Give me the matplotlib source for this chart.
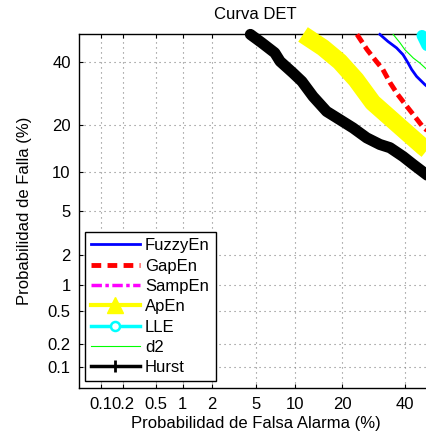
import numpy as np
import matplotlib
matplotlib.use("Agg")
import matplotlib.pyplot as plt
from matplotlib.lines import Line2D
from statistics import NormalDist

plt.rcParams['font.family'] = ['Liberation Sans', 'DejaVu Sans']
plt.rcParams['font.size'] = 12

# curvas DET: probabilidad de falsa alarma / de falla, en %
fuzzy_pfa = [31.2, 33.9, 36.9, 39.2, 41.0, 42.3, 44.1, 47.2, 50.0]
fuzzy_pmiss = [50.0, 47.4, 45.0, 42.5, 39.5, 37.2, 34.8, 32.0, 30.0]

gap_pfa = [24.1, 27.1, 29.6, 32.2, 34.6, 37.3, 40.6, 43.5, 46.4, 50.0]
gap_pmiss = [50.0, 44.4, 40.7, 37.2, 32.7, 28.8, 25.1, 22.2, 19.5, 17.4]

samp_pfa = []
samp_pmiss = []

ap_pfa = [11.4, 15.4, 19.4, 23.8, 28.9, 34.6, 40.6, 46.4, 50.0]
ap_pmiss = [50.0, 45.1, 40.0, 33.7, 26.3, 21.9, 18.0, 14.8, 13.2]

lle_pfa = [46.1, 47.9]
lle_pmiss = [49.6, 45.9]

d2_pfa = [35.7, 38.1, 39.8, 42.9, 45.3, 47.9, 50.0]
d2_pmiss = [50.0, 46.9, 44.4, 41.3, 39.5, 37.2, 35.8]

hurst_pfa = [4.5, 5.6, 7.1, 7.8, 9.7, 11.2, 13.3, 16.2, 19.4, 23.0, 27.0,
             31.2, 34.6, 39.2, 42.9, 47.8, 50.0]
hurst_pmiss = [50.0, 46.9, 43.2, 40.1, 36.0, 33.1, 28.2, 23.7, 21.4, 19.2,
               16.8, 15.3, 14.6, 12.8, 11.3, 9.6, 8.7]

tick_vals = [0.1, 0.2, 0.5, 1, 2, 5, 10, 20, 40]
tick_labels = ['0.1', '0.2', '0.5', '1', '2', '5', '10', '20', '40']

# escala de desviacion normal
nd = NormalDist()
_ppf = np.vectorize(lambda p: nd.inv_cdf(min(max(p, 1e-12), 1 - 1e-12)), otypes=[float])
_cdf = np.vectorize(nd.cdf, otypes=[float])


def probit(p):
    return _ppf(np.asarray(p, dtype=float))


def inv_probit(z):
    return _cdf(np.asarray(z, dtype=float))


def frac(v):
    return np.asarray(v, dtype=float) / 100.0


fig = plt.figure(figsize=(4.27, 4.33), dpi=100)
ax = fig.add_axes([0.185, 0.1035, 0.828, 0.817])
ax.set_xscale('function', functions=(probit, inv_probit))
ax.set_yscale('function', functions=(probit, inv_probit))

ax.plot(frac(hurst_pfa), frac(hurst_pmiss), color='k', lw=8,
        solid_capstyle='round', solid_joinstyle='round', clip_on=False, zorder=3)
ax.plot(frac(ap_pfa), frac(ap_pmiss), color='yellow', lw=12.5,
        solid_capstyle='butt', solid_joinstyle='round', clip_on=False, zorder=3)
ax.plot(frac(gap_pfa), frac(gap_pmiss), color='red', lw=3.5,
        dashes=(2, 1), clip_on=False, zorder=4)
ax.plot(frac(samp_pfa), frac(samp_pmiss), color='magenta', lw=2)
ax.plot(frac(fuzzy_pfa), frac(fuzzy_pmiss), color='blue', lw=2,
        clip_on=False, zorder=4)
ax.plot(frac(d2_pfa), frac(d2_pmiss), color='lime', lw=0.8,
        clip_on=False, zorder=4)
ax.plot(frac(lle_pfa), frac(lle_pmiss), color='cyan', lw=8,
        solid_capstyle='round', clip_on=False, zorder=4)

ax.set_xlim(0.0005, 0.5)
ax.set_ylim(0.0005, 0.5)
ax.set_xticks(frac(tick_vals))
ax.set_xticklabels(tick_labels)
ax.set_yticks(frac(tick_vals))
ax.set_yticklabels(tick_labels)
ax.minorticks_off()
ax.tick_params(direction='in', length=3, width=0.8, top=True, right=True,
               labelsize=12, pad=6)
ax.grid(True, linestyle=(0, (1, 3.5)), color='0.5', lw=0.8)
for s in ax.spines.values():
    s.set_linewidth(1.0)

ax.set_title('Curva DET', fontsize=12, pad=11)
ax.set_xlabel('Probabilidad de Falsa Alarma (%)', fontsize=12, labelpad=3)
ax.set_ylabel('Probabilidad de Falla (%)', fontsize=12, labelpad=11)

handles = [
    Line2D([], [], color='blue', lw=2),
    Line2D([], [], color='red', lw=3.5, dashes=(2, 1.3)),
    Line2D([], [], color='magenta', lw=2.5, dashes=(3, 1, 1, 1)),
    Line2D([], [], color='yellow', lw=3, marker='^', markersize=11,
           markevery=[1]),
    Line2D([], [], color='cyan', lw=2.5, marker='o', markersize=6.5,
           markerfacecolor='white', markeredgewidth=1.8, markevery=[1]),
    Line2D([], [], color='lime', lw=0.8),
    Line2D([], [], color='k', lw=2.5, marker='+', markersize=8,
           markeredgewidth=2, markevery=[1]),
]
for h in handles:
    h.set_xdata([0, 0.5, 1])
    h.set_ydata([0, 0, 0])
labels = ['FuzzyEn', 'GapEn', 'SampEn', 'ApEn', 'LLE', 'd2', 'Hurst']
leg = ax.legend(handles, labels, loc='lower left', bbox_to_anchor=(0.017, 0.02),
                fontsize=12, handlelength=2.95, handletextpad=0.3,
                labelspacing=0.32, borderpad=0.35, borderaxespad=0,
                fancybox=False, framealpha=1, edgecolor='k')
leg.get_frame().set_linewidth(1.0)

fig.savefig('out.png', dpi=100)
